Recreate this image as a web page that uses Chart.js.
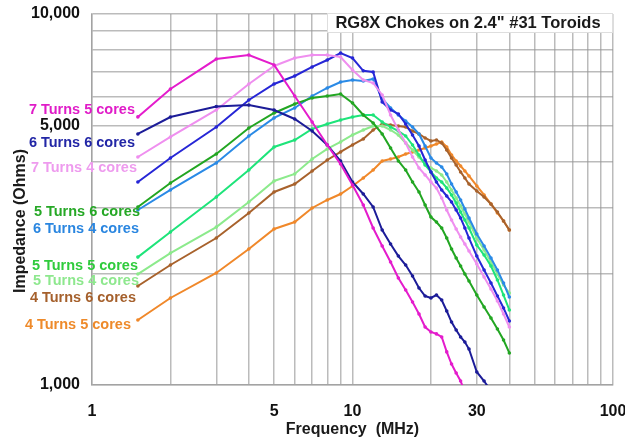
<!DOCTYPE html>
<html>
<head>
<meta charset="utf-8">
<script src="https://cdn.jsdelivr.net/npm/chart.js@4/dist/chart.umd.min.js"></script>
<style>
  html, body { margin: 0; padding: 0; background: #fff; }
  canvas { display: block; }
</style>
</head>
<body>
<canvas id="chokes" width="625" height="437"></canvas>
<script>
// measurement frequencies (MHz)
const freqMHz = [1.5, 2, 3, 4, 5, 6, 7, 8, 9, 10, 11, 12, 13, 14, 15, 16, 17, 18, 19, 20,
  21, 22, 23, 24, 25, 26, 27, 28, 30, 32, 34, 36, 38, 40];

// impedance in ohms, one entry per frequency (null = not measured / off scale)
const t7c5 = [5280, 6280, 7560, 7750, 7290, 6010, 5115, 4436, 3940, 3460, 3056, 2650, 2370, 2145, 1943, 1803, 1674,
  1554, 1433, 1390, 1373, 1347, 1228, 1139, 1077, 1025, 957, null, null, null, null, null, null, null];
const t6c6 = [4750, 5276, 5630, 5685, 5512, 5212, 4838, 4436, 4016, 3525, 3272, 3019, 2617, 2399, 2226, 2106, 1967,
  1826, 1737, 1716, 1748, 1695, 1583, 1478, 1407, 1347, 1306, 1250, 1084, 1025, 963, null, null, null];
const t7c4 = [4117, 4662, 5512, 6477, 7244, 7610, 7752, 7752, 7657, 7066, 6640, 6517, 6050, 5344, 4868, 4491, 4117,
  3845, 3682, 3525, 3397, 3193, 2963, 2785, 2633, 2506, 2399, 2297, 2119, 1955, 1814, 1685, 1554, 1433];
const blueTrace = [3525, 4092, 4960, 5865, 6477, 6806, 7200, 7516, 7850, 7610, 7030, 6980, 5790, 5512, 5377, 5053, 4720,
  4408, 4041, 3752, 3525, 3355, 3232, 3114, 2963, 2820, 2650, 2490, 2226, 2042, 1883, 1737, 1613, 1488];
const t5c6 = [3019, 3503, 4195, 4930, 5410, 5720, 5940, 6012, 6089, 5756, 5344, 5084, 4750, 4354, 4016, 3798, 3525,
  3314, 3056, 2836, 2750, 2650, 2490, 2325, 2199, 2093, 1992, 1907, 1748, 1623, 1516, 1416, 1322, 1220];
const t6c4 = [2963, 3355, 3967, 4691, 5245, 5580, 6012, 6318, 6557, 6640, 6598, 6682, 5910, 5580, 5344, 5147, 4960,
  4750, 4408, 4092, 3967, 3870, 3705, 3482, 3314, 3153, 2981, 2820, 2553, 2369, 2199, 2042, 1883, 1726];
const t5c5 = [2212, 2585, 3213, 3798, 4382, 4575, 4898, 5053, 5180, 5278, 5344, 5344, 5116, 4960, 4838, 4691, 4436,
  4169, 3918, 3752, 3614, 3525, 3397, 3252, 3094, 2926, 2785, 2650, 2384, 2240, 2093, 1919, 1748, 1593];
const t5c4 = [1991, 2268, 2665, 3114, 3547, 3705, 4066, 4327, 4519, 4720, 4868, 4991, 4991, 4868, 4720, 4491, 4300,
  4117, 3943, 3845, 3775, 3682, 3525, 3355, 3193, 3037, 2890, 2750, 2490, 2311, 2145, 1991, 1860, 1770];
const t4c6 = [1849, 2106, 2490, 2908, 3314, 3481, 3775, 4041, 4247, 4436, 4604, 4868, 5053, 5022, 4991, 4960, 4838,
  4750, 4632, 4547, 4575, 4491, 4300, 4092, 3918, 3752, 3614, 3481, 3334, 3213, 3075, 2926, 2768, 2617];
const t4c5 = [1497, 1716, 2004, 2325, 2633, 2750, 3000, 3153, 3272, 3439, 3614, 3798, 4016, 4066, 4117, 4195, 4247,
  4300, 4354, 4408, 4463, 4519, 4382, 4169, 4016, 3894, 3775, 3659, 3439, 3252, 3075, 2908, 2768, 2617];

// axis ticks: gridline positions and which of them get a label
const xTicks = [1, 2, 3, 4, 5, 6, 7, 8, 9, 10, 20, 30, 40, 50, 60, 70, 80, 90, 100];
const xTickLabels = [1, 5, 10, 30, 100];
const yTicks = [1000, 2000, 3000, 4000, 5000, 6000, 7000, 8000, 9000, 10000];
const yTickLabels = [1000, 5000, 10000];

const chartTitle = 'RG8X Chokes on 2.4" #31 Toroids';
const xTitle = 'Frequency  (MHz)';
const yTitle = 'Impedance (Ohms)';

const FONT = "'Liberation Sans', Arial, sans-serif";
const GRID = 'rgba(150,150,150,0.65)';

const traces = [
  { name: '7 Turns 5 cores', values: t7c5, color: '#e41ccc', text: '#e01cc8' },
  { name: '6 Turns 6 cores', values: t6c6, color: '#1c1c98', text: '#2226a6' },
  { name: '7 Turns 4 cores', values: t7c4, color: '#ef8fef', text: '#ee9bee' },
  { name: '', values: blueTrace, color: '#2626d6', text: null },
  { name: '5 Turns 6 cores', values: t5c6, color: '#22a622', text: '#26a826' },
  { name: '6 Turns 4 cores', values: t6c4, color: '#2a8ae6', text: '#2a86e0' },
  { name: '5 Turns 5 cores', values: t5c5, color: '#1ee47a', text: '#2fcb3c' },
  { name: '5 Turns 4 cores', values: t5c4, color: '#8cea8c', text: '#8ee88e' },
  { name: '4 Turns 6 cores', values: t4c6, color: '#a8622c', text: '#a5602c' },
  { name: '4 Turns 5 cores', values: t4c5, color: '#f0882a', text: '#ee8a2a' }
];

// where each trace name sits, left of the 1.5 MHz start (right edge x, centre y)
const nameAnchors = [[135, 110], [135, 143], [137, 168], null, [140, 212], [139, 229],
  [138, 266], [139, 281], [136, 298], [131, 325]];

// drop the label-overflow padding so layout.padding alone sets the plot edges
function fixScale(size, key) {
  return s => {
    s[key] = size;
    s.paddingLeft = s.paddingRight = s.paddingTop = s.paddingBottom = 0;
  };
}

const annotations = {
  id: 'annotations',
  afterDraw(chart) {
    const ctx = chart.ctx;
    const area = chart.chartArea;
    ctx.save();

    // title box in the upper right corner of the plot
    ctx.fillStyle = '#fff';
    ctx.fillRect(327, area.top - 1, area.right - 327, 20);
    ctx.strokeStyle = 'rgba(190,190,190,0.5)';
    ctx.lineWidth = 1;
    ctx.strokeRect(327.5, area.top - 0.5, area.right - 328, 19);
    ctx.fillStyle = '#1a1a1a';
    ctx.font = `bold 16.5px ${FONT}`;
    ctx.textAlign = 'center';
    ctx.textBaseline = 'middle';
    ctx.fillText(chartTitle, 468, 23.5);

    // axis titles
    ctx.font = `bold 16px ${FONT}`;
    ctx.fillText(xTitle, (area.left + area.right) / 2, 430);
    ctx.save();
    ctx.translate(21, 221);
    ctx.rotate(-Math.PI / 2);
    ctx.fillText(yTitle, 0, 0);
    ctx.restore();

    // trace names
    ctx.font = `bold 14.5px ${FONT}`;
    ctx.textAlign = 'right';
    traces.forEach((t, i) => {
      const a = nameAnchors[i];
      if (!a || !t.text) return;
      ctx.fillStyle = t.text;
      ctx.fillText(t.name, a[0], a[1]);
    });
    ctx.restore();
  }
};

new Chart(document.getElementById('chokes'), {
  type: 'line',
  data: {
    datasets: traces.map(t => ({
      label: t.name,
      data: freqMHz.map((f, i) => ({ x: f, y: t.values[i] })),
      borderColor: t.color,
      backgroundColor: t.color,
      borderWidth: 2,
      pointRadius: 1.8,
      pointBorderWidth: 0,
      pointBackgroundColor: t.color,
      tension: 0,
      spanGaps: false
    }))
  },
  options: {
    responsive: false,
    animation: false,
    devicePixelRatio: 1,
    layout: { padding: { top: 14, right: 12, left: 0, bottom: 0 } },
    plugins: {
      legend: { display: false },
      tooltip: { enabled: false }
    },
    scales: {
      x: {
        type: 'logarithmic',
        min: 1,
        max: 100,
        afterBuildTicks: s => { s.ticks = xTicks.map(v => ({ value: v })); },
        afterFit: fixScale(52, 'height'),
        grid: { color: GRID, lineWidth: 1.5, drawTicks: false },
        border: { color: GRID, width: 1.5 },
        ticks: {
          autoSkip: false,
          maxRotation: 0,
          padding: 17,
          color: '#111',
          font: { family: FONT, size: 16, weight: 'bold' },
          callback: v => xTickLabels.includes(v) ? String(v) : ''
        }
      },
      y: {
        type: 'logarithmic',
        min: 1000,
        max: 10000,
        afterBuildTicks: s => { s.ticks = yTicks.map(v => ({ value: v })); },
        afterFit: fixScale(92, 'width'),
        grid: { color: GRID, lineWidth: 1.5, drawTicks: false },
        border: { color: GRID, width: 1.5 },
        ticks: {
          autoSkip: false,
          padding: 12,
          color: '#111',
          font: { family: FONT, size: 16, weight: 'bold' },
          callback: v => yTickLabels.includes(v) ? v.toLocaleString('en-US') : ''
        }
      }
    }
  },
  plugins: [annotations]
});
</script>
</body>
</html>
